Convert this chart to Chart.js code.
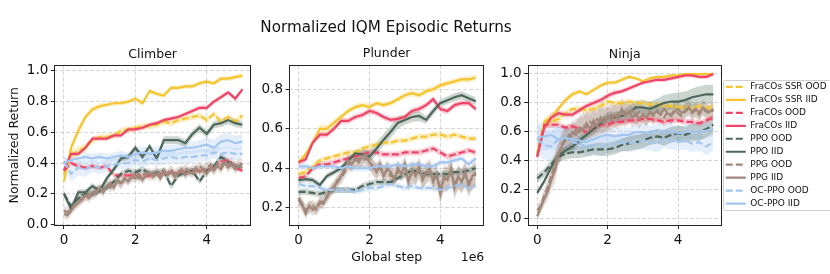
<!DOCTYPE html>
<html>
<head>
<meta charset="utf-8">
<script src="https://cdn.jsdelivr.net/npm/chart.js@4/dist/chart.umd.min.js"></script>
<style>
  html, body { margin: 0; padding: 0; background: #fff; overflow: hidden; }
  body { width: 830px; height: 274px; position: relative; }
  canvas { position: absolute; }
</style>
</head>
<body>
<canvas id="climber" width="254" height="223" style="left:0px;top:47px"></canvas>
<canvas id="ninja" width="342" height="223" style="left:488px;top:47px"></canvas>
<canvas id="plunder" width="300" height="260" style="left:236px;top:10px"></canvas>
<script>
// x positions (1e6 global steps)
const steps = [0,0.2,0.4,0.6,0.8,1,1.2,1.4,1.6,1.8,2,2.2,2.4,2.6,2.8,3,3.2,3.4,3.6,3.8,4,4.2,4.4,4.6,4.8,5];
const stepsFine = [0,0.1,0.2,0.3,0.4,0.5,0.6,0.7,0.8,0.9,1,1.1,1.2,1.3,1.4,1.5,1.6,1.7,1.8,1.9,2,2.1,2.2,2.3,2.4,2.5,2.6,2.7,2.8,2.9,3,3.1,3.2,3.3,3.4,3.5,3.6,3.7,3.8,3.9,4,4.1,4.2,4.3,4.4,4.5,4.6,4.7,4.8,4.9,5];

const seriesNames = ["FraCOs SSR OOD","FraCOs SSR IID","FraCOs OOD","FraCOs IID","PPO OOD","PPO IID","PPG OOD","PPG IID","OC-PPO OOD","OC-PPO IID"];
const xTicks = [0, 2, 4];
const climberTicks = [0, 0.2, 0.4, 0.6, 0.8, 1.0];
const plunderTicks = [0.2, 0.4, 0.6, 0.8];
const ninjaTicks = [0, 0.2, 0.4, 0.6, 0.8, 1.0];

// ---- Climber ----
const cSsrOod = [0.33,0.45,0.48,0.50,0.55,0.57,0.57,0.58,0.61,0.62,0.63,0.64,0.64,0.65,0.67,0.66,0.68,0.69,0.70,0.71,0.68,0.72,0.67,0.70,0.67,0.71];
const cSsrIid = [0.28,0.50,0.61,0.70,0.75,0.77,0.78,0.79,0.79,0.80,0.82,0.79,0.87,0.85,0.84,0.89,0.89,0.90,0.90,0.92,0.93,0.92,0.95,0.95,0.96,0.97];
const cFraOod = [0.35,0.40,0.38,0.37,0.38,0.37,0.38,0.32,0.32,0.32,0.32,0.31,0.32,0.33,0.33,0.34,0.33,0.34,0.35,0.35,0.35,0.37,0.41,0.42,0.37,0.35];
const cFraIid = [0.35,0.46,0.46,0.50,0.56,0.56,0.56,0.58,0.58,0.62,0.62,0.63,0.65,0.66,0.68,0.69,0.70,0.72,0.74,0.76,0.76,0.80,0.83,0.86,0.82,0.88];
const cPpoOod = [0.20,0.12,0.17,0.20,0.20,0.22,0.24,0.28,0.33,0.35,0.34,0.36,0.33,0.34,0.35,0.25,0.32,0.34,0.35,0.28,0.35,0.38,0.44,0.41,0.37,0.38];
const cPpoIid = [0.20,0.10,0.21,0.21,0.25,0.22,0.30,0.36,0.43,0.44,0.50,0.44,0.51,0.43,0.55,0.55,0.55,0.53,0.59,0.63,0.59,0.65,0.66,0.68,0.66,0.65];
const cPpgOod = [0.09,0.08,0.10,0.13,0.15,0.17,0.18,0.20,0.19,0.22,0.23,0.21,0.26,0.24,0.27,0.28,0.26,0.30,0.29,0.31,0.33,0.30,0.32,0.34,0.31,0.33,0.35,0.32,0.34,0.33,0.36,0.33,0.35,0.34,0.37,0.34,0.36,0.35,0.38,0.36,0.37,0.39,0.36,0.40,0.38,0.42,0.39,0.41,0.38,0.40,0.39];
const cPpgIid = [0.07,0.06,0.09,0.12,0.14,0.16,0.19,0.17,0.21,0.20,0.24,0.22,0.25,0.27,0.24,0.29,0.27,0.30,0.28,0.31,0.30,0.33,0.29,0.32,0.34,0.31,0.33,0.30,0.35,0.32,0.34,0.31,0.33,0.36,0.32,0.35,0.33,0.37,0.34,0.36,0.33,0.37,0.35,0.38,0.36,0.40,0.37,0.39,0.36,0.38,0.37];
const cOcOod = [0.41,0.33,0.37,0.36,0.38,0.37,0.38,0.39,0.40,0.40,0.42,0.41,0.43,0.42,0.43,0.44,0.43,0.44,0.44,0.45,0.45,0.47,0.46,0.47,0.46,0.46];
const cOcIid = [0.40,0.42,0.43,0.44,0.43,0.44,0.43,0.44,0.45,0.44,0.46,0.47,0.46,0.47,0.48,0.48,0.49,0.50,0.50,0.51,0.52,0.50,0.54,0.55,0.53,0.54];
// half widths of the shaded bands
const cSsrOodBand = [0.02,0.03,0.03,0.03,0.02,0.02,0.02,0.02,0.02,0.02,0.02,0.02,0.02,0.02,0.02,0.02,0.02,0.02,0.02,0.02,0.02,0.02,0.02,0.02,0.02,0.02];
const cSsrIidBand = [0.02,0.03,0.03,0.02,0.02,0.02,0.015,0.015,0.015,0.015,0.015,0.015,0.015,0.015,0.015,0.015,0.015,0.015,0.015,0.015,0.015,0.015,0.015,0.015,0.015,0.015];
const cFraOodBand = [0.015,0.015,0.015,0.015,0.015,0.015,0.015,0.015,0.015,0.015,0.015,0.015,0.015,0.015,0.015,0.015,0.015,0.015,0.015,0.015,0.015,0.015,0.015,0.015,0.015,0.015];
const cFraIidBand = [0.015,0.015,0.015,0.015,0.015,0.015,0.015,0.015,0.015,0.015,0.015,0.015,0.015,0.015,0.015,0.015,0.015,0.015,0.015,0.015,0.015,0.015,0.015,0.015,0.015,0.015];
const cPpoOodBand = [0.02,0.02,0.02,0.02,0.02,0.02,0.02,0.02,0.02,0.02,0.02,0.02,0.02,0.02,0.02,0.02,0.02,0.02,0.02,0.02,0.02,0.02,0.02,0.02,0.02,0.02];
const cPpoIidBand = [0.02,0.02,0.02,0.02,0.02,0.02,0.02,0.02,0.02,0.02,0.02,0.02,0.02,0.02,0.025,0.025,0.025,0.025,0.025,0.025,0.025,0.025,0.025,0.025,0.025,0.025];
const cPpgOodBand = [0.03,0.03,0.03,0.03,0.03,0.03,0.03,0.03,0.03,0.03,0.03,0.03,0.03,0.03,0.03,0.03,0.03,0.03,0.03,0.03,0.03,0.03,0.03,0.03,0.03,0.03,0.03,0.03,0.03,0.03,0.03,0.03,0.03,0.03,0.03,0.03,0.03,0.03,0.03,0.03,0.03,0.03,0.03,0.03,0.03,0.03,0.03,0.03,0.03,0.03,0.03];
const cPpgIidBand = [0.03,0.03,0.03,0.03,0.03,0.03,0.03,0.03,0.03,0.03,0.03,0.03,0.03,0.03,0.03,0.03,0.03,0.03,0.03,0.03,0.03,0.03,0.03,0.03,0.03,0.03,0.03,0.03,0.03,0.03,0.03,0.03,0.03,0.03,0.03,0.03,0.03,0.03,0.03,0.03,0.03,0.03,0.03,0.03,0.03,0.03,0.03,0.03,0.03,0.03,0.03];
const cOcOodBand = [0.04,0.05,0.05,0.05,0.04,0.04,0.04,0.04,0.04,0.04,0.04,0.04,0.04,0.04,0.04,0.04,0.04,0.04,0.04,0.04,0.04,0.04,0.04,0.04,0.04,0.04];
const cOcIidBand = [0.03,0.03,0.03,0.03,0.03,0.03,0.03,0.03,0.03,0.03,0.04,0.04,0.04,0.04,0.04,0.04,0.04,0.04,0.04,0.04,0.05,0.05,0.05,0.05,0.05,0.05];

// ---- Plunder ----
const pSsrOod = [0.37,0.38,0.41,0.44,0.45,0.46,0.47,0.48,0.48,0.50,0.51,0.52,0.53,0.53,0.54,0.54,0.55,0.56,0.56,0.57,0.57,0.56,0.57,0.56,0.55,0.55];
const pSsrIid = [0.43,0.47,0.53,0.60,0.60,0.63,0.66,0.69,0.71,0.72,0.71,0.73,0.72,0.73,0.75,0.77,0.78,0.77,0.79,0.80,0.82,0.83,0.84,0.85,0.85,0.86];
const pFraOod = [0.35,0.36,0.40,0.42,0.42,0.43,0.44,0.45,0.46,0.47,0.48,0.48,0.47,0.47,0.47,0.48,0.48,0.48,0.49,0.50,0.48,0.46,0.47,0.48,0.49,0.48];
const pFraIid = [0.43,0.445,0.53,0.57,0.57,0.60,0.64,0.64,0.66,0.67,0.69,0.68,0.66,0.645,0.65,0.66,0.69,0.70,0.72,0.75,0.70,0.69,0.72,0.73,0.73,0.70];
const pPpoOod = [0.28,0.28,0.275,0.27,0.28,0.29,0.29,0.29,0.29,0.31,0.32,0.33,0.33,0.33,0.35,0.37,0.39,0.38,0.37,0.37,0.37,0.37,0.38,0.38,0.39,0.40];
const pPpoIid = [0.34,0.345,0.34,0.315,0.36,0.38,0.40,0.44,0.475,0.47,0.46,0.50,0.545,0.585,0.63,0.645,0.66,0.665,0.645,0.69,0.73,0.745,0.76,0.77,0.755,0.74];
const pPpgOod = [0.24,0.21,0.19,0.20,0.21,0.19,0.22,0.24,0.25,0.29,0.30,0.34,0.35,0.38,0.42,0.43,0.44,0.45,0.44,0.45,0.44,0.40,0.39,0.40,0.37,0.39,0.36,0.36,0.38,0.38,0.40,0.35,0.37,0.37,0.39,0.35,0.37,0.38,0.35,0.36,0.30,0.34,0.35,0.38,0.32,0.35,0.34,0.36,0.33,0.35,0.37];
const pPpgIid = [0.25,0.22,0.17,0.21,0.19,0.20,0.23,0.22,0.26,0.28,0.31,0.33,0.36,0.40,0.44,0.42,0.45,0.43,0.46,0.47,0.43,0.41,0.38,0.42,0.36,0.40,0.38,0.34,0.40,0.37,0.42,0.33,0.39,0.36,0.41,0.34,0.38,0.40,0.33,0.37,0.27,0.36,0.34,0.40,0.30,0.36,0.33,0.38,0.31,0.36,0.38];
const pOcOod = [0.32,0.31,0.31,0.30,0.29,0.29,0.29,0.29,0.28,0.29,0.30,0.30,0.31,0.32,0.31,0.30,0.31,0.30,0.30,0.30,0.29,0.30,0.31,0.32,0.30,0.31];
const pOcIid = [0.41,0.41,0.40,0.41,0.41,0.41,0.40,0.41,0.40,0.40,0.40,0.41,0.41,0.41,0.42,0.41,0.42,0.42,0.41,0.41,0.43,0.43,0.44,0.45,0.42,0.45];
const pSsrOodBand = [0.015,0.015,0.015,0.015,0.015,0.015,0.015,0.015,0.015,0.015,0.015,0.015,0.015,0.015,0.015,0.015,0.015,0.015,0.015,0.015,0.015,0.015,0.015,0.015,0.015,0.015];
const pSsrIidBand = [0.015,0.015,0.02,0.02,0.02,0.02,0.015,0.015,0.015,0.015,0.015,0.015,0.015,0.015,0.015,0.015,0.015,0.015,0.015,0.015,0.015,0.015,0.015,0.015,0.015,0.015];
const pFraOodBand = [0.015,0.015,0.015,0.015,0.015,0.015,0.015,0.015,0.015,0.015,0.015,0.015,0.015,0.015,0.015,0.015,0.015,0.015,0.015,0.015,0.015,0.015,0.015,0.015,0.015,0.015];
const pFraIidBand = [0.015,0.015,0.015,0.015,0.015,0.015,0.015,0.015,0.015,0.015,0.015,0.015,0.015,0.015,0.015,0.015,0.015,0.015,0.015,0.015,0.015,0.015,0.015,0.015,0.015,0.015];
const pPpoOodBand = [0.015,0.015,0.015,0.015,0.015,0.015,0.015,0.015,0.015,0.015,0.015,0.015,0.015,0.015,0.015,0.015,0.015,0.015,0.015,0.015,0.015,0.015,0.015,0.015,0.015,0.015];
const pPpoIidBand = [0.015,0.015,0.015,0.015,0.015,0.015,0.015,0.015,0.02,0.025,0.03,0.03,0.03,0.03,0.03,0.025,0.025,0.025,0.02,0.02,0.02,0.02,0.02,0.02,0.02,0.02];
const pPpgOodBand = [0.03,0.03,0.03,0.03,0.03,0.03,0.03,0.03,0.03,0.03,0.03,0.03,0.03,0.03,0.04,0.04,0.04,0.04,0.04,0.04,0.04,0.04,0.04,0.04,0.04,0.04,0.04,0.04,0.04,0.04,0.05,0.05,0.05,0.05,0.05,0.05,0.05,0.05,0.05,0.05,0.06,0.06,0.06,0.06,0.06,0.06,0.06,0.06,0.06,0.06,0.06];
const pPpgIidBand = [0.03,0.03,0.03,0.03,0.03,0.03,0.03,0.03,0.03,0.03,0.03,0.03,0.03,0.03,0.04,0.04,0.04,0.04,0.04,0.04,0.04,0.04,0.04,0.04,0.04,0.04,0.04,0.04,0.04,0.04,0.05,0.05,0.05,0.05,0.05,0.05,0.05,0.05,0.05,0.05,0.06,0.06,0.06,0.06,0.06,0.06,0.06,0.06,0.06,0.06,0.06];
const pOcOodBand = [0.015,0.015,0.015,0.015,0.015,0.015,0.015,0.015,0.015,0.015,0.015,0.015,0.015,0.015,0.015,0.015,0.015,0.015,0.015,0.015,0.015,0.015,0.015,0.015,0.015,0.015];
const pOcIidBand = [0.015,0.015,0.015,0.015,0.015,0.015,0.015,0.015,0.015,0.015,0.015,0.015,0.015,0.015,0.015,0.015,0.015,0.015,0.015,0.015,0.015,0.015,0.015,0.015,0.015,0.015];

// ---- Ninja ----
const nSsrOod = [0.45,0.66,0.67,0.69,0.73,0.76,0.76,0.75,0.76,0.78,0.81,0.80,0.80,0.81,0.80,0.80,0.79,0.79,0.78,0.78,0.77,0.77,0.76,0.78,0.76,0.78];
const nSsrIid = [0.45,0.67,0.70,0.76,0.82,0.86,0.88,0.86,0.89,0.92,0.94,0.94,0.96,0.98,0.97,0.95,0.97,0.98,0.98,0.99,0.99,1.00,1.00,1.00,1.00,1.00];
const nFraOod = [0.43,0.65,0.65,0.65,0.63,0.64,0.62,0.60,0.62,0.65,0.65,0.67,0.67,0.68,0.68,0.69,0.69,0.68,0.67,0.68,0.68,0.67,0.67,0.66,0.68,0.70];
const nFraIid = [0.43,0.63,0.70,0.73,0.72,0.72,0.75,0.78,0.80,0.82,0.85,0.87,0.88,0.90,0.92,0.94,0.95,0.96,0.96,0.97,0.98,0.99,0.99,0.98,0.98,1.00];
const nPpoOod = [0.28,0.32,0.38,0.43,0.45,0.46,0.46,0.47,0.48,0.48,0.48,0.49,0.51,0.52,0.53,0.54,0.56,0.57,0.56,0.58,0.59,0.58,0.60,0.60,0.62,0.65];
const nPpoIid = [0.18,0.26,0.36,0.44,0.47,0.50,0.54,0.58,0.62,0.66,0.70,0.70,0.71,0.73,0.77,0.77,0.76,0.78,0.80,0.81,0.81,0.82,0.84,0.85,0.86,0.86];
const nPpgOod = [0.06,0.09,0.16,0.22,0.30,0.38,0.45,0.52,0.54,0.58,0.56,0.62,0.60,0.65,0.63,0.67,0.65,0.69,0.67,0.70,0.68,0.72,0.70,0.73,0.71,0.74,0.72,0.75,0.71,0.74,0.72,0.70,0.73,0.71,0.74,0.72,0.70,0.74,0.72,0.75,0.73,0.71,0.74,0.76,0.73,0.75,0.72,0.76,0.74,0.73,0.75];
const nPpgIid = [0.02,0.08,0.14,0.19,0.27,0.33,0.44,0.50,0.56,0.55,0.60,0.58,0.63,0.61,0.66,0.62,0.68,0.64,0.70,0.66,0.71,0.68,0.72,0.69,0.76,0.71,0.74,0.70,0.73,0.69,0.72,0.70,0.74,0.72,0.75,0.72,0.76,0.73,0.71,0.74,0.76,0.73,0.75,0.77,0.74,0.76,0.73,0.77,0.75,0.74,0.76];
const nOcOod = [0.55,0.51,0.50,0.55,0.56,0.53,0.52,0.50,0.51,0.50,0.51,0.52,0.53,0.52,0.53,0.54,0.53,0.52,0.55,0.54,0.53,0.54,0.52,0.53,0.50,0.53];
const nOcIid = [0.56,0.57,0.58,0.55,0.56,0.55,0.54,0.53,0.55,0.57,0.58,0.57,0.58,0.58,0.60,0.60,0.59,0.61,0.60,0.61,0.59,0.60,0.60,0.60,0.61,0.62];
const nSsrOodBand = [0.02,0.03,0.03,0.03,0.02,0.02,0.02,0.02,0.02,0.02,0.02,0.02,0.02,0.02,0.02,0.02,0.02,0.02,0.02,0.02,0.02,0.02,0.02,0.02,0.02,0.02];
const nSsrIidBand = [0.02,0.03,0.03,0.02,0.02,0.02,0.015,0.015,0.015,0.015,0.015,0.015,0.015,0.015,0.01,0.01,0.01,0.01,0.01,0.01,0.01,0.01,0.01,0.01,0.01,0.01];
const nFraOodBand = [0.02,0.02,0.02,0.02,0.02,0.02,0.02,0.02,0.02,0.02,0.02,0.02,0.02,0.02,0.02,0.02,0.02,0.02,0.02,0.02,0.02,0.02,0.02,0.02,0.02,0.02];
const nFraIidBand = [0.02,0.03,0.03,0.02,0.02,0.02,0.02,0.02,0.02,0.02,0.02,0.02,0.015,0.015,0.015,0.015,0.015,0.015,0.015,0.015,0.015,0.015,0.015,0.015,0.015,0.015];
const nPpoOodBand = [0.03,0.03,0.03,0.04,0.04,0.04,0.04,0.04,0.04,0.045,0.045,0.045,0.045,0.05,0.05,0.05,0.05,0.05,0.055,0.055,0.055,0.055,0.06,0.06,0.06,0.06];
const nPpoIidBand = [0.02,0.02,0.02,0.03,0.03,0.03,0.03,0.03,0.035,0.035,0.04,0.04,0.04,0.045,0.045,0.05,0.05,0.05,0.055,0.055,0.06,0.06,0.06,0.065,0.065,0.065];
const nPpgOodBand = [0.04,0.04,0.05,0.06,0.07,0.08,0.08,0.08,0.08,0.08,0.08,0.08,0.09,0.09,0.09,0.09,0.09,0.09,0.09,0.09,0.08,0.08,0.08,0.08,0.08,0.08,0.07,0.07,0.07,0.07,0.06,0.06,0.06,0.06,0.06,0.06,0.06,0.06,0.06,0.06,0.05,0.05,0.05,0.05,0.05,0.05,0.05,0.05,0.05,0.05,0.05];
const nPpgIidBand = [0.04,0.04,0.05,0.06,0.07,0.08,0.08,0.08,0.08,0.08,0.08,0.08,0.09,0.09,0.09,0.09,0.09,0.09,0.09,0.09,0.08,0.08,0.08,0.08,0.08,0.08,0.07,0.07,0.07,0.07,0.06,0.06,0.06,0.06,0.06,0.06,0.06,0.06,0.06,0.06,0.05,0.05,0.05,0.05,0.05,0.05,0.05,0.05,0.05,0.05,0.05];
const nOcOodBand = [0.1,0.1,0.1,0.09,0.08,0.07,0.06,0.06,0.06,0.06,0.06,0.06,0.06,0.06,0.06,0.06,0.06,0.06,0.06,0.06,0.06,0.06,0.06,0.06,0.06,0.06];
const nOcIidBand = [0.1,0.1,0.1,0.09,0.08,0.07,0.06,0.05,0.05,0.05,0.05,0.05,0.05,0.05,0.05,0.05,0.05,0.05,0.05,0.05,0.05,0.05,0.05,0.05,0.05,0.05];

// styles, one per series (legend order)
const lineColours = ["#f5c531","#f5c531","#ee4466","#ee4466","#4d675b","#4d675b","#a1887a","#a1887a","#a3c6f0","#a3c6f0"];
const lineDashed = [true,false,true,false,true,false,true,false,true,false];
const seriesSteps = [steps,steps,steps,steps,steps,steps,stepsFine,stepsFine,steps,steps];

Chart.defaults.font.family = "'DejaVu Sans', sans-serif";
Chart.defaults.color = "#111";
Chart.defaults.animation = false;

function Fade(hex, a) {
  const n = parseInt(hex.slice(1), 16);
  return "rgba(" + (n >> 16) + "," + ((n >> 8) & 255) + "," + (n & 255) + "," + a + ")";
}

function CreateDatasets(series, bands) {
  const lines = [];
  const fills = [];
  series.forEach((vals, i) => {
    const xs = seriesSteps[i];
    lines.push({
      label: seriesNames[i],
      data: vals.map((v, j) => ({ x: xs[j], y: v })),
      borderColor: lineColours[i],
      backgroundColor: lineColours[i],
      borderWidth: 2.2,
      borderDash: lineDashed[i] ? [7, 3] : [],
      pointRadius: 0,
      fill: false,
      order: 50 - i
    });
    // lower edge then upper edge, filled to the previous one
    fills.push({
      band: true,
      data: vals.map((v, j) => ({ x: xs[j], y: v - bands[i][j] })),
      borderColor: "transparent", borderWidth: 0, pointRadius: 0, fill: false, order: 100
    });
    fills.push({
      band: true,
      data: vals.map((v, j) => ({ x: xs[j], y: v + bands[i][j] })),
      borderColor: "transparent", borderWidth: 0, pointRadius: 0,
      fill: "-1", backgroundColor: Fade(lineColours[i], 0.28), order: 100
    });
  });
  return lines.concat(fills);
}

const frameBox = {
  id: "frameBox",
  afterDatasetsDraw(chart) {
    const a = chart.chartArea;
    const ctx = chart.ctx;
    ctx.save();
    ctx.strokeStyle = "#222";
    ctx.lineWidth = 1;
    const l = Math.round(a.left) + 0.5, t = Math.round(a.top) + 0.5;
    const r = Math.round(a.right) - 0.5, b = Math.round(a.bottom) - 0.5;
    ctx.strokeRect(l, t, r - l, b - t);
    ctx.restore();
  }
};

function CreateScales(yMin, yMax, yTicks, yWidth, yTitle, xTitle, xHeight) {
  return {
    x: {
      type: "linear", min: -0.27, max: 5.24,
      afterBuildTicks: s => { s.ticks = xTicks.map(v => ({ value: v })); },
      afterFit: s => { s.height = xHeight; },
      ticks: { callback: v => String(v), font: { size: 13.5 }, padding: 3.5, maxRotation: 0, color: "#111" },
      grid: { color: "#cccccc", lineWidth: 0.8, tickLength: 3.5, tickColor: "#222", tickWidth: 1 },
      border: { display: false, dash: [4, 2] },
      title: xTitle ? { display: true, text: xTitle, font: { size: 12.5 }, color: "#111", padding: { top: 0, bottom: 4.7 } } : { display: false }
    },
    y: {
      type: "linear", min: yMin, max: yMax,
      afterBuildTicks: s => { s.ticks = yTicks.map(v => ({ value: v })); },
      afterFit: s => { s.width = yWidth; },
      ticks: { callback: v => v.toFixed(1), font: { size: 13.5 }, padding: 2.5, color: "#111" },
      grid: { color: "#cccccc", lineWidth: 0.8, tickLength: 3.5, tickColor: "#222", tickWidth: 1 },
      border: { display: false, dash: [4, 2] },
      title: yTitle ? { display: true, text: yTitle, font: { size: 12.5 }, color: "#111", padding: { top: 7.5, bottom: 0 } } : { display: false }
    }
  };
}

function SubTitle(text) {
  return { display: true, text: text, font: { size: 12.5, weight: "normal" }, color: "#111", fullSize: false, padding: { top: 0, bottom: 3 } };
}

// Climber
new Chart(document.getElementById("climber"), {
  type: "line",
  data: { datasets: CreateDatasets(
    [cSsrOod, cSsrIid, cFraOod, cFraIid, cPpoOod, cPpoIid, cPpgOod, cPpgIid, cOcOod, cOcIid],
    [cSsrOodBand, cSsrIidBand, cFraOodBand, cFraIidBand, cPpoOodBand, cPpoIidBand, cPpgOodBand, cPpgIidBand, cOcOodBand, cOcIidBand]) },
  options: {
    responsive: false, events: [],
    layout: { padding: { left: 0, right: 3, top: 0, bottom: 0 } },
    scales: CreateScales(-0.0065, 1.039, climberTicks, 54.3, "Normalized Return", null, 44.5),
    plugins: { legend: { display: false }, tooltip: { enabled: false }, title: SubTitle("Climber"), filler: { drawTime: "beforeDatasetsDraw" } }
  },
  plugins: [frameBox]
});

// Plunder, carries the figure title and the x label
const offsetText = {
  id: "offsetText",
  afterDraw(chart) {
    const ctx = chart.ctx;
    ctx.save();
    ctx.font = "12.5px 'DejaVu Sans', sans-serif";
    ctx.fillStyle = "#111";
    ctx.textAlign = "right";
    ctx.textBaseline = "alphabetic";
    ctx.fillText("1e6", chart.chartArea.right, 250.7);
    ctx.restore();
  }
};
const plunderScales = CreateScales(0.11, 0.923, plunderTicks, 53, null, "Global step", 44.5);
// empty right-hand axis, only keeps the plot the same width as its neighbours
plunderScales.yRight = {
  type: "linear", position: "right", min: 0, max: 1,
  afterFit: s => { s.width = 51.7; },
  ticks: { display: false }, grid: { display: false }, border: { display: false }
};
new Chart(document.getElementById("plunder"), {
  type: "line",
  data: { datasets: CreateDatasets(
    [pSsrOod, pSsrIid, pFraOod, pFraIid, pPpoOod, pPpoIid, pPpgOod, pPpgIid, pOcOod, pOcIid],
    [pSsrOodBand, pSsrIidBand, pFraOodBand, pFraIidBand, pPpoOodBand, pPpoIidBand, pPpgOodBand, pPpgIidBand, pOcOodBand, pOcIidBand]) },
  options: {
    responsive: false, events: [],
    layout: { padding: 0 },
    scales: plunderScales,
    plugins: {
      legend: { display: false }, tooltip: { enabled: false },
      title: { display: true, text: "Normalized IQM Episodic Returns", font: { size: 15.2, weight: "normal" }, color: "#111", fullSize: true, padding: { top: 9.1, bottom: 9.3 } },
      subtitle: { display: true, text: "Plunder", font: { size: 12.5 }, color: "#111", fullSize: false, padding: { top: 0, bottom: 3.4 } },
      filler: { drawTime: "beforeDatasetsDraw" }
    }
  },
  plugins: [frameBox, offsetText]
});

// Ninja, carries the legend
const legendFrame = {
  id: "legendFrame",
  afterDraw(chart) {
    const hb = chart.legend.legendHitBoxes;
    if (!hb || !hb.length) return;
    const ctx = chart.ctx;
    const half = hb[0].height / 2;
    const top = Math.round(hb[0].top + half - 7) + 0.5;
    const bottom = Math.round(hb[hb.length - 1].top + half + 6.5) + 0.5;
    const left = Math.round(hb[0].left - 3) + 0.5;
    const right = chart.width + 5;
    ctx.save();
    ctx.strokeStyle = "#d0d0d0";
    ctx.lineWidth = 1;
    ctx.beginPath();
    ctx.roundRect(left, top, right - left, bottom - top, 2);
    ctx.stroke();
    ctx.restore();
  }
};
new Chart(document.getElementById("ninja"), {
  type: "line",
  data: { datasets: CreateDatasets(
    [nSsrOod, nSsrIid, nFraOod, nFraIid, nPpoOod, nPpoIid, nPpgOod, nPpgIid, nOcOod, nOcIid],
    [nSsrOodBand, nSsrIidBand, nFraOodBand, nFraIidBand, nPpoOodBand, nPpoIidBand, nPpgOodBand, nPpgIidBand, nOcOodBand, nOcIidBand]) },
  options: {
    responsive: false, events: [],
    layout: { padding: 0 },
    scales: CreateScales(-0.045, 1.062, ninjaTicks, 39.7, null, null, 44.5),
    plugins: {
      tooltip: { enabled: false },
      title: SubTitle("Ninja"),
      filler: { drawTime: "beforeDatasetsDraw" },
      legend: {
        display: true, position: "right", align: "center", fullSize: false, maxWidth: 108.2,
        labels: {
          usePointStyle: true, pointStyle: "line", pointStyleWidth: 20,
          font: { size: 9 }, padding: 3.97, color: "#111",
          generateLabels: chart => Chart.defaults.plugins.legend.labels.generateLabels(chart).map(item => {
            const ds = chart.data.datasets[item.datasetIndex];
            item.lineDash = ds.borderDash;
            item.lineWidth = ds.borderWidth;
            item.strokeStyle = ds.borderColor;
            return item;
          }),
          filter: (item, data) => !data.datasets[item.datasetIndex].band,
          sort: (a, b) => a.datasetIndex - b.datasetIndex
        }
      }
    }
  },
  plugins: [frameBox, legendFrame]
});
</script>
</body>
</html>
